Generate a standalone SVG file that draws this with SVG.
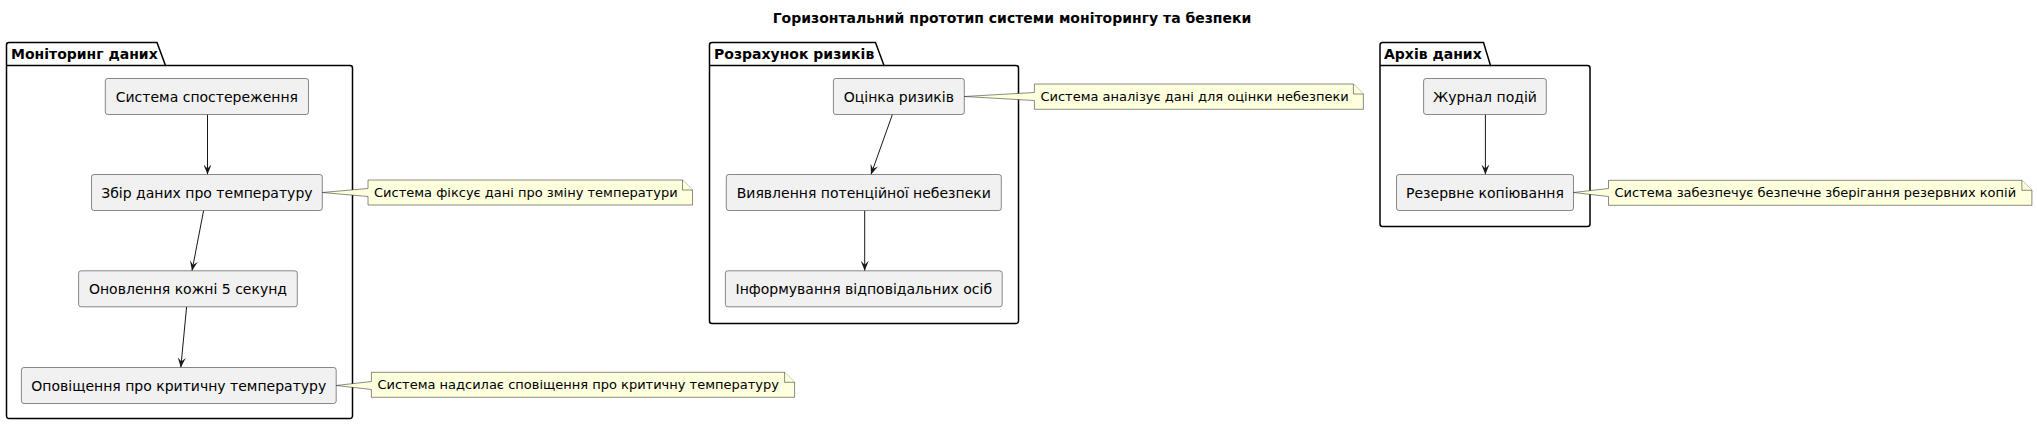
<svg xmlns="http://www.w3.org/2000/svg" width="2037" height="425" viewBox="0 0 2037 425">
<style>
.bg{fill:#FFFFFF}
.pkg{fill:none;stroke:#000000;stroke-width:1.5}
.pkgt{font-family:"DejaVu Sans",sans-serif;font-size:14px;font-weight:bold;fill:#000000}
.title{font-family:"DejaVu Sans",sans-serif;font-size:14px;font-weight:bold;fill:#000000;text-anchor:middle}
.node{fill:#F1F1F1;stroke:#181818;stroke-width:0.5}
.nt{font-family:"DejaVu Sans",sans-serif;font-size:14px;fill:#000000;text-anchor:middle}
.note{fill:#FEFFDD;stroke:#181818;stroke-width:0.5}
.notet{font-family:"DejaVu Sans",sans-serif;font-size:13px;fill:#000000}
.edge{stroke:#181818;stroke-width:1;fill:none}
</style>
<defs>
<marker id="ah" viewBox="0 0 10 8" refX="10" refY="4" markerWidth="10" markerHeight="8" markerUnits="userSpaceOnUse" orient="auto">
<path d="M0,0 L10,4 L0,8 L4,4 Z" fill="#181818"/>
</marker>
</defs>
<rect class="bg" x="0" y="0" width="2037" height="425"/>
<text class="title" x="1012" y="23">Горизонтальний прототип системи моніторингу та безпеки</text>

<g id="pkg-monitoring">
<path class="pkg" d="M9,42.5 H157 L165.5,65.5 H350 A2.5,2.5 0 0 1 352.5,68 V416 A2.5,2.5 0 0 1 350,418.5 H9 A2.5,2.5 0 0 1 6.5,416 V45 A2.5,2.5 0 0 1 9,42.5 Z"/>
<line class="pkg" x1="6.5" y1="65.5" x2="165.5" y2="65.5"/>
<text class="pkgt" x="11" y="59">Моніторинг даних</text>
</g>
<g id="pkg-risk">
<path class="pkg" d="M712,42.5 H875.5 L884,65.5 H1016 A2.5,2.5 0 0 1 1018.5,68 V321 A2.5,2.5 0 0 1 1016,323.5 H712 A2.5,2.5 0 0 1 709.5,321 V45 A2.5,2.5 0 0 1 712,42.5 Z"/>
<line class="pkg" x1="709.5" y1="65.5" x2="884" y2="65.5"/>
<text class="pkgt" x="714" y="59">Розрахунок ризиків</text>
</g>
<g id="pkg-archive">
<path class="pkg" d="M1382.5,42.5 H1483.5 L1490.5,65.5 H1587.5 A2.5,2.5 0 0 1 1590,68 V224 A2.5,2.5 0 0 1 1587.5,226.5 H1382.5 A2.5,2.5 0 0 1 1380,224 V45 A2.5,2.5 0 0 1 1382.5,42.5 Z"/>
<line class="pkg" x1="1380" y1="65.5" x2="1490.5" y2="65.5"/>
<text class="pkgt" x="1384" y="59">Архів даних</text>
</g>

<g id="connectors">
<line class="edge" x1="207.5" y1="114.5" x2="207.5" y2="174.5" marker-end="url(#ah)"/>
<line class="edge" x1="203.6" y1="210.5" x2="192" y2="270.8" marker-end="url(#ah)"/>
<line class="edge" x1="186.6" y1="306.8" x2="180.8" y2="367.5" marker-end="url(#ah)"/>
<line class="edge" x1="892.4" y1="114.5" x2="871" y2="174.5" marker-end="url(#ah)"/>
<line class="edge" x1="864.7" y1="210.5" x2="864.7" y2="270.8" marker-end="url(#ah)"/>
<line class="edge" x1="1485.4" y1="114.5" x2="1485.4" y2="174.5" marker-end="url(#ah)"/>
</g>

<g id="n-observe">
<rect class="node" x="105.3" y="78.5" width="203.2" height="36" rx="2.5"/>
<text class="nt" x="206.9" y="101.5">Система спостереження</text>
</g>
<g id="n-collect">
<rect class="node" x="91.5" y="174.5" width="230.8" height="36" rx="2.5"/>
<text class="nt" x="206.9" y="197.5">Збір даних про температуру</text>
</g>
<g id="n-update">
<rect class="node" x="78.6" y="270.8" width="218.7" height="36" rx="2.5"/>
<text class="nt" x="188" y="293.8">Оновлення кожні 5 секунд</text>
</g>
<g id="n-alert">
<rect class="node" x="21.4" y="367.5" width="314.8" height="36" rx="2.5"/>
<text class="nt" x="178.8" y="390.5">Оповіщення про критичну температуру</text>
</g>
<g id="n-assess">
<rect class="node" x="833.4" y="78.5" width="130.9" height="36" rx="2.5"/>
<text class="nt" x="898.8" y="101.5">Оцінка ризиків</text>
</g>
<g id="n-detect">
<rect class="node" x="726.3" y="174.5" width="275" height="36" rx="2.5"/>
<text class="nt" x="863.8" y="197.5">Виявлення потенційної небезпеки</text>
</g>
<g id="n-inform">
<rect class="node" x="725.4" y="270.8" width="276.8" height="36" rx="2.5"/>
<text class="nt" x="863.8" y="293.8">Інформування відповідальних осіб</text>
</g>
<g id="n-log">
<rect class="node" x="1423.6" y="78.5" width="122.7" height="36" rx="2.5"/>
<text class="nt" x="1485" y="101.5">Журнал подій</text>
</g>
<g id="n-backup">
<rect class="node" x="1396.5" y="174.5" width="177" height="36" rx="2.5"/>
<text class="nt" x="1485" y="197.5">Резервне копіювання</text>
</g>

<g id="note-collect">
<path class="note" d="M368,180 H682.5 L692.5,190 V205 H368 V196.5 L322.3,192.5 L368,188.5 Z"/>
<path class="note" d="M682.5,180 V190 H692.5" fill="none"/>
<text class="notet" x="374" y="197">Система фіксує дані про зміну температури</text>
</g>
<g id="note-alert">
<path class="note" d="M371.4,372.3 H784.6 L794.6,382.3 V397.3 H371.4 V389.5 L336.2,385.5 L371.4,381.5 Z"/>
<path class="note" d="M784.6,372.3 V382.3 H794.6" fill="none"/>
<text class="notet" x="377.4" y="389.3">Система надсилає сповіщення про критичну температуру</text>
</g>
<g id="note-assess">
<path class="note" d="M1034.4,84 H1353.4 L1363.4,94 V109.3 H1034.4 V100.5 L964.3,96.5 L1034.4,92.5 Z"/>
<path class="note" d="M1353.4,84 V94 H1363.4" fill="none"/>
<text class="notet" x="1040.4" y="101">Система аналізує дані для оцінки небезпеки</text>
</g>
<g id="note-backup">
<path class="note" d="M1608.5,180.3 H2021.9 L2031.9,190.3 V205.3 H1608.5 V196.5 L1573.5,192.5 L1608.5,188.5 Z"/>
<path class="note" d="M2021.9,180.3 V190.3 H2031.9" fill="none"/>
<text class="notet" x="1614.5" y="197.3">Система забезпечує безпечне зберігання резервних копій</text>
</g>
</svg>
